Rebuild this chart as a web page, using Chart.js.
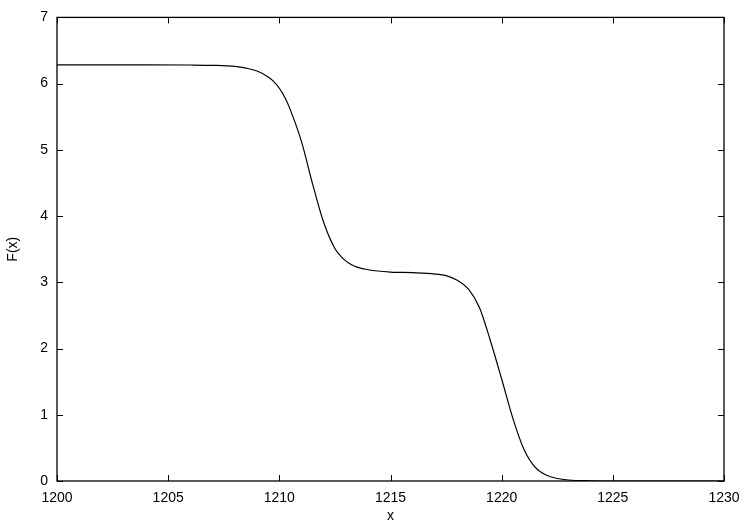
<!DOCTYPE html>
<html>
<head>
<meta charset="utf-8">
<script src="https://cdn.jsdelivr.net/npm/chart.js@4"></script>
<style>
  html, body { margin: 0; padding: 0; background: #fff; }
  #wrap { width: 750px; height: 525px; }
</style>
</head>
<body>
<div id="wrap"><canvas id="c" width="750" height="525"></canvas></div>
<script>
const xValues = [1200, 1202, 1204, 1206, 1207, 1208, 1208.5, 1209, 1209.5, 1209.75, 1210, 1210.25, 1210.5, 1211, 1211.5, 1212, 1212.5, 1212.75, 1213, 1213.25, 1213.5, 1214, 1215, 1216, 1217, 1217.5, 1218, 1218.5, 1219, 1219.5, 1220, 1220.5, 1221, 1221.5, 1222, 1222.5, 1223, 1224, 1225, 1226, 1228, 1230];
const fValues = [6.283, 6.283, 6.283, 6.281, 6.276, 6.26, 6.235, 6.19, 6.10, 6.03, 5.93, 5.79, 5.60, 5.12, 4.48, 3.90, 3.51, 3.40, 3.32, 3.265, 3.23, 3.19, 3.155, 3.145, 3.125, 3.10, 3.03, 2.90, 2.62, 2.11, 1.54, 0.95, 0.48, 0.21, 0.09, 0.038, 0.015, 0.003, 0, 0, 0, 0];
const xTicks = [1200, 1205, 1210, 1215, 1220, 1225, 1230];
const yTicks = [0, 1, 2, 3, 4, 5, 6, 7];
const xTitle = 'x';
const yTitle = 'F(x)';

const points = xValues.map((x, i) => ({ x: x, y: fValues[i] }));
const FONT = 'Liberation Sans, Arial, Helvetica, sans-serif';

const framePlugin = {
  id: 'frame',
  afterDraw(chart) {
    const ctx = chart.ctx;
    const a = chart.chartArea;
    const xs = chart.scales.x, ys = chart.scales.y;
    const L = 6;
    ctx.save();
    ctx.strokeStyle = '#000';
    ctx.lineWidth = 1;
    ctx.beginPath();
    xTicks.forEach(v => {
      const px = Math.round(xs.getPixelForValue(v)) + 0.5;
      ctx.moveTo(px, a.bottom); ctx.lineTo(px, a.bottom - L);
      ctx.moveTo(px, a.top); ctx.lineTo(px, a.top + L);
    });
    yTicks.forEach(v => {
      const py = Math.round(ys.getPixelForValue(v)) + 0.5;
      ctx.moveTo(a.left, py); ctx.lineTo(a.left + L, py);
      ctx.moveTo(a.right, py); ctx.lineTo(a.right - L, py);
    });
    ctx.stroke();
    ctx.lineWidth = 1.3;
    ctx.strokeRect(a.left, a.top, a.right - a.left, a.bottom - a.top);
    ctx.restore();
  }
};

new Chart(document.getElementById('c'), {
  type: 'line',
  data: {
    datasets: [{
      data: points,
      borderColor: '#000',
      borderWidth: 1.2,
      pointRadius: 0,
      fill: false,
      cubicInterpolationMode: 'monotone'
    }]
  },
  options: {
    responsive: false,
    animation: false,
    devicePixelRatio: 1,
    layout: { padding: { top: 17, right: 26, left: 0, bottom: 0 } },
    plugins: { legend: { display: false }, tooltip: { enabled: false } },
    scales: {
      x: {
        type: 'linear',
        min: 1200, max: 1230,
        afterBuildTicks(s) { s.ticks = xTicks.map(v => ({ value: v })); },
        afterFit(s) { s.height = 44; },
        grid: { display: false, drawTicks: false },
        border: { display: false },
        ticks: { color: '#000', padding: 9, font: { family: FONT, size: 14 }, maxRotation: 0, callback: v => String(v) },
        title: { display: true, text: xTitle, color: '#000', padding: { top: 0, bottom: 0 }, font: { family: FONT, size: 14 } }
      },
      y: {
        type: 'linear',
        min: 0, max: 7,
        afterBuildTicks(s) { s.ticks = yTicks.map(v => ({ value: v })); },
        afterFit(s) { s.width = 57; },
        grid: { display: false, drawTicks: false },
        border: { display: false },
        ticks: { color: '#000', padding: 9, font: { family: FONT, size: 14 }, callback: v => String(v) },
        title: { display: true, text: yTitle, color: '#000', padding: { top: 5, bottom: 0 }, font: { family: FONT, size: 14 } }
      }
    }
  },
  plugins: [framePlugin]
});
</script>
</body>
</html>
